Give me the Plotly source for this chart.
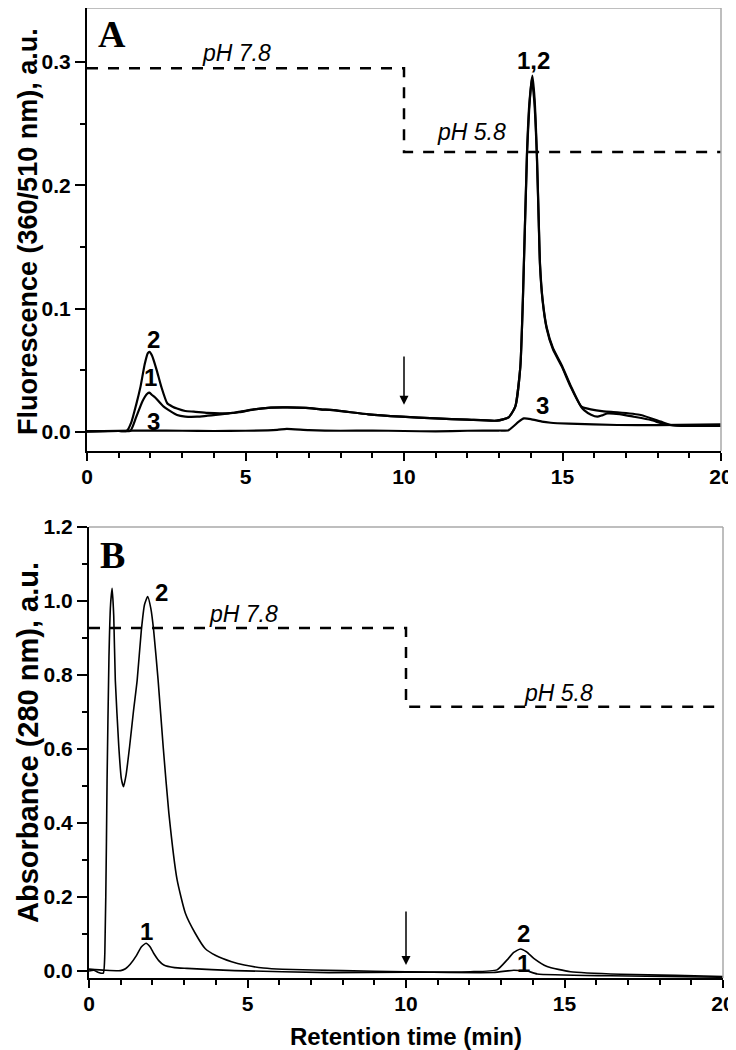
import plotly.graph_objects as go

# ---------------- Panel A: fluorescence (360/510 nm) ----------------
a1_t = [0, 1.0, 1.37, 1.55, 1.75, 1.9, 1.97, 2.05, 2.15, 2.42, 2.84, 3.1, 3.47, 4.21, 4.6,
        5.27, 5.8, 6.32, 6.9, 7.37, 7.9, 8.88, 9.92, 11.0, 12.0, 12.93, 13.3, 13.51, 13.67,
        13.75, 13.88, 13.95, 14.03, 14.11, 14.19, 14.25, 14.29, 14.37, 14.5, 14.7, 14.98,
        15.25, 15.6, 15.68, 15.9, 16.1, 16.25, 16.42, 16.8, 17.25, 17.79, 18.2, 18.6, 19.2, 20]
a1_v = [0.0005, 0.0008, 0.001, 0.012, 0.025, 0.031, 0.0319, 0.030, 0.028, 0.0205, 0.0138,
        0.0125, 0.0124, 0.0143, 0.0155, 0.0184, 0.0198, 0.020, 0.0195, 0.0184, 0.0173, 0.0143,
        0.0124, 0.011, 0.010, 0.0092, 0.0119, 0.0205, 0.053, 0.107, 0.225, 0.262, 0.287, 0.268,
        0.225, 0.17, 0.135, 0.107, 0.084, 0.067, 0.053, 0.037, 0.020, 0.0178, 0.014, 0.0124,
        0.0135, 0.0151, 0.0145, 0.0124, 0.0097, 0.0065, 0.0052, 0.005, 0.0049]

a2_t = [0, 1.0, 1.26, 1.4, 1.55, 1.69, 1.82, 1.92, 1.97, 2.05, 2.2, 2.34, 2.53, 2.7, 2.84,
        3.1, 3.37, 3.8, 4.21, 4.8, 5.27, 5.8, 6.32, 6.9, 7.37, 7.9, 8.88, 9.92, 11.0, 12.0,
        12.93, 13.3, 13.51, 13.67, 13.75, 13.88, 13.95, 14.05, 14.12, 14.19, 14.25, 14.29,
        14.37, 14.5, 14.7, 14.98, 15.25, 15.6, 15.89, 16.3, 16.73, 17.47, 18.1, 18.42, 19.0, 20]
a2_v = [0.0005, 0.0008, 0.001, 0.008, 0.022, 0.037, 0.055, 0.064, 0.065, 0.062, 0.050, 0.037,
        0.0233, 0.0205, 0.019, 0.017, 0.0165, 0.0155, 0.0151, 0.016, 0.0184, 0.0198, 0.020,
        0.0195, 0.0184, 0.0173, 0.0143, 0.0124, 0.011, 0.010, 0.0092, 0.0119, 0.0205, 0.053,
        0.107, 0.227, 0.265, 0.289, 0.27, 0.227, 0.172, 0.137, 0.108, 0.085, 0.068, 0.054,
        0.038, 0.0205, 0.0184, 0.0168, 0.016, 0.0138, 0.0084, 0.0057, 0.005, 0.0049]

a3_t = [0, 1, 2, 3, 4, 5, 6, 6.3, 7, 8, 9, 10, 11, 12, 13, 13.3, 13.62, 13.78, 14.0, 14.35,
        14.63, 15.2, 16.73, 18, 20]
a3_v = [0.0005, 0.001, 0.0012, 0.001, 0.0008, 0.001, 0.0018, 0.0025, 0.0015, 0.001, 0.0012,
        0.0008, 0.0005, 0.001, 0.0012, 0.0015, 0.0084, 0.011, 0.0105, 0.0084, 0.0075, 0.0068,
        0.0057, 0.0055, 0.0062]

a_ph_t = [0, 10, 10, 20]
a_ph_v = [0.295, 0.295, 0.227, 0.227]

# ---------------- Panel B: absorbance (280 nm) ----------------
b1_t = [0, 0.5, 1.0, 1.15, 1.3, 1.5, 1.65, 1.8, 1.92, 2.04, 2.2, 2.36, 2.7, 3.09, 4.6,
        7.57, 10, 12.75, 13.4, 13.6, 13.82, 14.14, 16.45, 20]
b1_v = [0.005, 0.002, 0.001, 0.006, 0.018, 0.042, 0.065, 0.075, 0.066, 0.048, 0.028, 0.016,
        0.009, 0.007, 0.001, -0.0045, -0.003, -0.004, 0.002, 0.001, 0.0, -0.008, -0.013, -0.017]

b2_t = [0, 0.15, 0.3, 0.45, 0.5, 0.55, 0.57, 0.63, 0.68, 0.73, 0.78, 0.83, 0.94, 1.02, 1.09,
        1.17, 1.28, 1.4, 1.52, 1.65, 1.75, 1.85, 1.95, 2.04, 2.18, 2.34, 2.52, 2.78, 3.04,
        3.35, 3.67, 4.0, 4.5, 4.9, 5.5, 6.1, 8, 10, 12.03, 12.87, 13.19, 13.4, 13.61, 13.8,
        14.03, 14.45, 15.19, 16.77, 18.5, 20]
b2_v = [0.0, 0.002, -0.004, -0.006, 0.05, 0.35, 0.516, 0.85, 0.99, 1.034, 0.96, 0.786, 0.606,
        0.52, 0.498, 0.53, 0.606, 0.70, 0.786, 0.92, 0.99, 1.012, 0.98, 0.92, 0.786, 0.606,
        0.426, 0.246, 0.156, 0.102, 0.060, 0.042, 0.025, 0.016, 0.008, 0.0045, 0.001, -0.002,
        -0.002, 0.003, 0.030, 0.050, 0.0595, 0.052, 0.034, 0.012, -0.002, -0.009, -0.012, -0.015]

b_ph_t = [0, 10, 10, 20]
b_ph_v = [0.927, 0.927, 0.714, 0.714]

FONT = "Liberation Sans"
# page has an 8px body margin, so figure pixel = page pixel - 8
L, T, PW, PH = 79, 0, 636, 970

fig = go.Figure()

def curve(t, v, xa, ya, w):
    fig.add_trace(go.Scatter(x=t, y=v, mode="lines", xaxis=xa, yaxis=ya,
                             line=dict(color="black", width=w, shape="spline", smoothing=0.5),
                             hoverinfo="skip"))

def phline(t, v, xa, ya):
    fig.add_trace(go.Scatter(x=t, y=v, mode="lines", xaxis=xa, yaxis=ya,
                             line=dict(color="black", width=2.5, dash="11px,10px"),
                             hoverinfo="skip"))

phline(a_ph_t, a_ph_v, "x", "y")
curve(a3_t, a3_v, "x", "y", 2.2)
curve(a1_t, a1_v, "x", "y", 2.2)
curve(a2_t, a2_v, "x", "y", 2.2)
phline(b_ph_t, b_ph_v, "x2", "y2")
curve(b1_t, b1_v, "x2", "y2", 1.6)
curve(b2_t, b2_v, "x2", "y2", 1.6)

tickf = dict(family=FONT, size=21, color="black", weight="bold")

def xax(domain, anchor):
    return dict(domain=domain, anchor=anchor, range=[0, 20], tick0=0, dtick=5,
                ticks="outside", ticklen=8, tickwidth=2, tickcolor="black",
                showline=True, linecolor="black", linewidth=2, showgrid=False, zeroline=False,
                automargin=False,
                minor=dict(dtick=1, ticks="outside", ticklen=5, tickwidth=1.5,
                           tickcolor="black", showgrid=False),
                tickfont=tickf, ticklabelstandoff=-2)

def yax(domain, anchor, rng, dt, mdt):
    return dict(domain=domain, anchor=anchor, range=rng, tick0=0, dtick=dt, tickformat=".1f",
                ticks="outside", ticklen=10, tickwidth=2, tickcolor="black",
                showline=True, linecolor="black", linewidth=2, showgrid=False, zeroline=False,
                automargin=False,
                minor=dict(dtick=mdt, ticks="outside", ticklen=5, tickwidth=1.5,
                           tickcolor="black", showgrid=False),
                tickfont=tickf, ticklabelstandoff=0)

fig.update_layout(
    template="none",
    width=736, height=1050,
    margin=dict(l=L, r=736 - L - PW, t=T, b=1050 - T - PH, autoexpand=False),
    paper_bgcolor="white", plot_bgcolor="white", showlegend=False,
    xaxis=xax([0, 634 / 636], "y"),
    yaxis=yax([(970 - 443) / 970, 1.0], "x", [-0.0154, 0.3438], 0.1, 0.05),
    xaxis2=xax([2 / 636, 1.0], "y2"),
    yaxis2=yax([0.0, (970 - 519) / 970], "x2", [-0.019, 1.2], 0.2, 0.1),
)

# gray top/right frame
for xr, yr in (("x domain", "y domain"), ("x2 domain", "y2 domain")):
    fig.add_shape(type="line", xref=xr, yref=yr, x0=0, x1=1, y0=1, y1=1,
                  line=dict(color="#a8a8a8", width=1.5))
    fig.add_shape(type="line", xref=xr, yref=yr, x0=1, x1=1, y0=0, y1=1,
                  line=dict(color="#a8a8a8", width=1.5))

def label(text, x, y, xr, yr, size=24, italic=False, bold=True, family=FONT):
    fig.add_annotation(text=text, x=x, y=y, xref=xr, yref=yr, showarrow=False,
                       xanchor="center", yanchor="middle",
                       font=dict(family=family, size=size, color="black",
                                 weight="bold" if bold else "normal",
                                 style="italic" if italic else "normal"))

# Panel A labels
label("A", 0.79, 0.3227, "x", "y", size=38, family="Liberation Serif")
label("1,2", 14.09, 0.301, "x", "y")
label("2", 2.09, 0.0754, "x", "y")
label("1", 1.99, 0.0438, "x", "y")
label("3", 2.09, 0.0089, "x", "y")
label("3", 14.38, 0.0211, "x", "y")
label("pH 7.8", 4.71, 0.307, "x", "y", size=23, italic=True, bold=False)
label("pH 5.8", 12.13, 0.243, "x", "y", size=23, italic=True, bold=False)

# Panel B labels
label("B", 0.73, 1.124, "x2", "y2", size=38, family="Liberation Serif")
label("2", 2.30, 1.024, "x2", "y2")
label("1", 1.80, 0.108, "x2", "y2")
label("2", 13.70, 0.100, "x2", "y2")
label("1", 13.70, 0.019, "x2", "y2")
label("pH 7.8", 4.86, 0.965, "x2", "y2", size=23, italic=True, bold=False)
label("pH 5.8", 14.81, 0.751, "x2", "y2", size=23, italic=True, bold=False)

# arrows marking the pH switch
fig.add_annotation(x=10, y=0.022, ax=10, ay=0.0625, xref="x", yref="y", axref="x", ayref="y",
                   text="", showarrow=True, arrowhead=2, arrowsize=1.2, arrowwidth=1.5,
                   arrowcolor="black")
fig.add_annotation(x=10, y=0.016, ax=10, ay=0.165, xref="x2", yref="y2", axref="x2",
                   ayref="y2", text="", showarrow=True, arrowhead=2, arrowsize=1.2,
                   arrowwidth=1.5, arrowcolor="black")

def px(xp):   # page x -> paper
    return (xp - 8 - L) / PW

def py(yp):   # page y -> paper
    return (T + PH - (yp - 8)) / PH

def ytitle(text, ypage, size):
    fig.add_annotation(text=text, xref="paper", yref="paper", x=px(28), y=py(ypage),
                       showarrow=False, textangle=-90, xanchor="center", yanchor="middle",
                       font=dict(family=FONT, size=size, color="black", weight="bold"))

ytitle("Fluorescence (360/510 nm), a.u.", 232, 27)
ytitle("Absorbance (280 nm), a.u.", 743, 29)
fig.add_annotation(text="Retention time (min)", xref="paper", yref="paper",
                   x=px(406), y=py(1036), showarrow=False,
                   xanchor="center", yanchor="middle",
                   font=dict(family=FONT, size=24, color="black", weight="bold"))

fig.write_html("out.html")
